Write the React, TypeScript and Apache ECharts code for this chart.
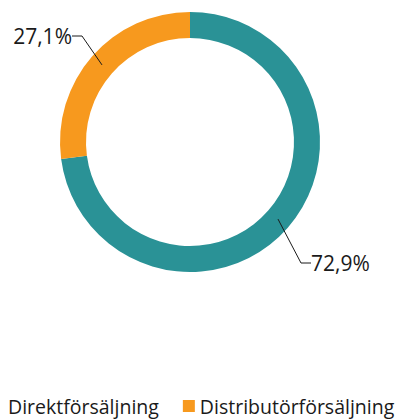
import React, { useEffect, useRef } from "react";
import * as echarts from "echarts";

const categories = ["Direktförsäljning", "Distributörförsäljning"];
const values = [72.9, 27.1];
const valueLabels = ["72,9%", "27,1%"];
const colors = ["#2a9296", "#f7991e"];

const FONT = "'Open Sans', 'Noto Sans', sans-serif";
// div is shifted so that its left edge sits at page x = -9, top at page y = 8
const OX = -9;
const OY = 8;

export default function App() {
  const ref = useRef<HTMLDivElement>(null);
  useEffect(() => {
    if (!ref.current) return;
    const chart = echarts.init(ref.current, undefined, { renderer: "svg" });
    const ringData = categories.map((name, i) => ({
      name,
      value: values[i],
      itemStyle: { color: colors[i] },
    }));
    const labelData = categories.map((name, i) => ({
      name,
      value: values[i],
      label: {
        formatter: valueLabels[i],
        padding: i === 0 ? [0, 0, 0, 6] : [0, 8, 0, 0],
      },
      itemStyle: { color: "rgba(0,0,0,0)" },
    }));
    chart.setOption({
      animation: false,
      legend: {
        data: categories,
        left: 0,
        bottom: 3,
        padding: 0,
        icon: "rect",
        itemWidth: 12,
        itemHeight: 12,
        itemGap: 24,
        textStyle: { fontFamily: FONT, fontSize: 19.5, color: "#1a1a1a" },
      },
      series: [
        {
          type: "pie",
          center: [190 - OX, 142 - OY],
          radius: [104, 130],
          startAngle: 90,
          silent: true,
          label: { show: false },
          labelLine: { show: false },
          data: ringData,
        },
        {
          type: "pie",
          center: [190 - OX, 142 - OY],
          radius: [0, 117],
          startAngle: 90,
          silent: true,
          z: 3,
          label: {
            show: true,
            position: "outside",
            fontFamily: FONT,
            fontSize: 21,
            color: "#1a1a1a",
          },
          labelLine: {
            show: true,
            length: 20,
            length2: 10,
            lineStyle: { color: "#1a1a1a", width: 1 },
          },
          labelLayout: (params: any) => {
            if (params.dataIndex === 1) {
              return { x: 80 - OX, y: 36 - OY, align: "right", verticalAlign: "middle" };
            }
            return { x: 305 - OX, y: 263 - OY, align: "left", verticalAlign: "middle" };
          },
          data: labelData,
        },
      ],
    });
    return () => chart.dispose();
  }, []);
  return (
    <div
      ref={ref}
      style={{ width: 420, height: 411, marginLeft: OX - 8 }}
    />
  );
}
